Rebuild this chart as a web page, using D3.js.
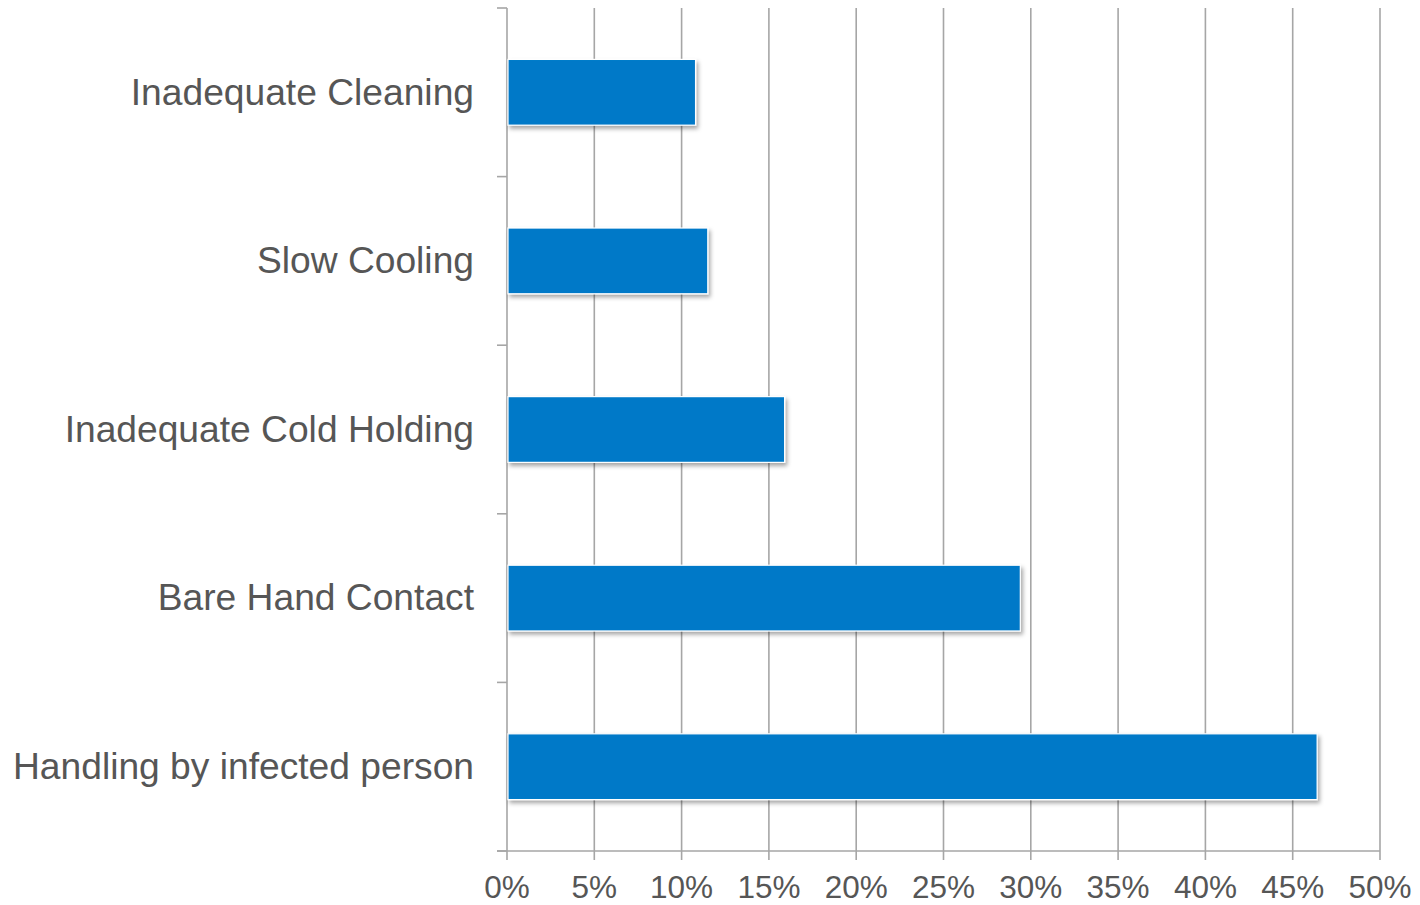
<!DOCTYPE html>
<html>
<head>
<meta charset="utf-8">
<script src="https://cdn.jsdelivr.net/npm/d3@7"></script>
<style>
  html, body { margin: 0; padding: 0; background: #ffffff; }
  svg { display: block; }
</style>
</head>
<body>
<svg id="chart" width="1420" height="905"></svg>
<script>
const categories = ["Inadequate Cleaning", "Slow Cooling", "Inadequate Cold Holding", "Bare Hand Contact", "Handling by infected person"];
const values = [0.108, 0.115, 0.159, 0.294, 0.464];
const xTicks = [0, 0.05, 0.10, 0.15, 0.20, 0.25, 0.30, 0.35, 0.40, 0.45, 0.50];
const xTickLabels = ["0%", "5%", "10%", "15%", "20%", "25%", "30%", "35%", "40%", "45%", "50%"];

(function () {
const svg = d3.select("#chart");
const plotLeft = 507, plotRight = 1380, plotTop = 8, plotBottom = 851;
const gridColor = "#a6a6a6";
const textColor = "#565656";

const x = d3.scaleLinear().domain([0, 0.5]).range([plotLeft, plotRight]);
const y = d3.scaleBand().domain(categories).range([plotTop, plotBottom]).paddingInner(0.61).paddingOuter(0.305);

const defs = svg.append("defs");
const f = defs.append("filter").attr("id", "shadow").attr("x", "-5%").attr("y", "-20%").attr("width", "115%").attr("height", "150%");
f.append("feDropShadow").attr("dx", 2).attr("dy", 3).attr("stdDeviation", 2.2).attr("flood-color", "#000").attr("flood-opacity", 0.35);

// vertical gridlines (with tick extension below axis)
svg.append("g").selectAll("line").data(xTicks).join("line")
  .attr("x1", d => x(d)).attr("x2", d => x(d))
  .attr("y1", plotTop).attr("y2", plotBottom + 9)
  .attr("stroke", gridColor).attr("stroke-width", 1.6);

// x axis line
svg.append("line").attr("x1", plotLeft - 10).attr("x2", plotRight).attr("y1", plotBottom).attr("y2", plotBottom)
  .attr("stroke", gridColor).attr("stroke-width", 1.6);

// y axis boundary ticks
const boundaries = d3.range(categories.length + 1).map(i => y.range()[0] + i * y.step());
svg.append("g").selectAll("line").data(boundaries).join("line")
  .attr("x1", plotLeft - 10).attr("x2", plotLeft)
  .attr("y1", d => d).attr("y2", d => d)
  .attr("stroke", gridColor).attr("stroke-width", 1.6);

// bars
svg.append("g").selectAll("rect").data(categories).join("rect")
  .attr("x", x(0) + 1)
  .attr("y", d => y(d))
  .attr("width", (d, i) => x(values[i]) - x(0) - 1)
  .attr("height", y.bandwidth())
  .attr("fill", "#0079c8")
  .attr("stroke", "#ffffff").attr("stroke-width", 1.2)
  .attr("filter", "url(#shadow)");

// category labels
svg.append("g").selectAll("text").data(categories).join("text")
  .attr("x", 474)
  .attr("y", d => y(d) + y.bandwidth() / 2)
  .attr("dy", "0.33em")
  .attr("text-anchor", "end")
  .attr("font-family", "'Liberation Sans', Arial, sans-serif")
  .attr("font-size", 37.2)
  .attr("fill", textColor)
  .text(d => d);

// x tick labels
svg.append("g").selectAll("text").data(xTicks).join("text")
  .attr("x", d => x(d))
  .attr("y", 898)
  .attr("text-anchor", "middle")
  .attr("font-family", "'Liberation Sans', Arial, sans-serif")
  .attr("font-size", 31.5)
  .attr("fill", textColor)
  .text((d, i) => xTickLabels[i]);
})();
</script>
</body>
</html>
